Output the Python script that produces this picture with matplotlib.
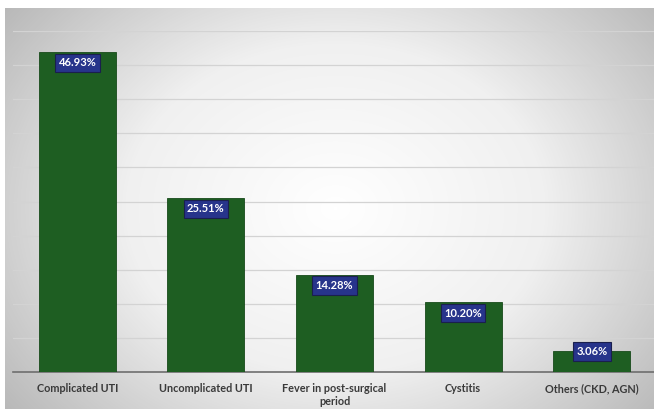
import numpy as np
import matplotlib.pyplot as plt
from matplotlib.colors import LinearSegmentedColormap

categories = ['Complicated UTI', 'Uncomplicated UTI', 'Fever in post-surgical\nperiod',
              'Cystitis', 'Others (CKD, AGN)']
percentages = [46.93, 25.51, 14.28, 10.20, 3.06]

plt.rcParams['font.family'] = ['Lato', 'DejaVu Sans']

fig = plt.figure(figsize=(6.54, 4.09), dpi=100)

# radial grey-to-white backdrop behind the chart
bg = fig.add_axes([5 / 654, 0, 649 / 654, 401 / 409], zorder=0)
yy, xx = np.mgrid[0:401, 0:649]
r = np.sqrt(((xx - 330) / 420.0) ** 2 + ((yy - 200) / 330.0) ** 2)
shade = LinearSegmentedColormap.from_list('shade', ['#ffffff', '#f0f0f0', '#b8b8b8'])
bg.imshow(np.clip(r, 0, 1), cmap=shade, vmin=0, vmax=1, aspect='auto')
bg.axis('off')

ax = fig.add_axes([13 / 654, 37 / 409, 643 / 654, 341 / 409], zorder=1)
ax.patch.set_alpha(0)

x = np.arange(len(categories))
ax.bar(x, percentages, width=0.6, color='#1e5e22', edgecolor='#174a1a', linewidth=0.6, zorder=3)

for xi, v in zip(x, percentages):
    ax.text(xi, max(v - 1.6, 3.0), f'{v:.2f}%', ha='center', va='center',
            fontsize=8, fontweight='bold', color='white', zorder=4,
            bbox=dict(boxstyle='square,pad=0.32', facecolor='#27348b', edgecolor='#1a1f4d', linewidth=0.8))

ax.set_xlim(-0.5, len(categories) - 0.5)
ax.set_ylim(0, 50)
ax.set_yticks(np.arange(5, 51, 5))
ax.yaxis.grid(True, color='#d3d3d3', linewidth=0.9, zorder=0)
ax.tick_params(axis='y', length=0, labelleft=False)
ax.tick_params(axis='x', length=0, pad=8)
ax.set_xticks(x)
ax.set_xticklabels(categories, fontsize=7.8, fontweight='bold', color='#3a3a3a')
for side in ['top', 'right', 'left']:
    ax.spines[side].set_visible(False)
ax.spines['bottom'].set_color('#6e6e6e')
ax.spines['bottom'].set_linewidth(1.2)

fig.savefig('out.png', dpi=100)
